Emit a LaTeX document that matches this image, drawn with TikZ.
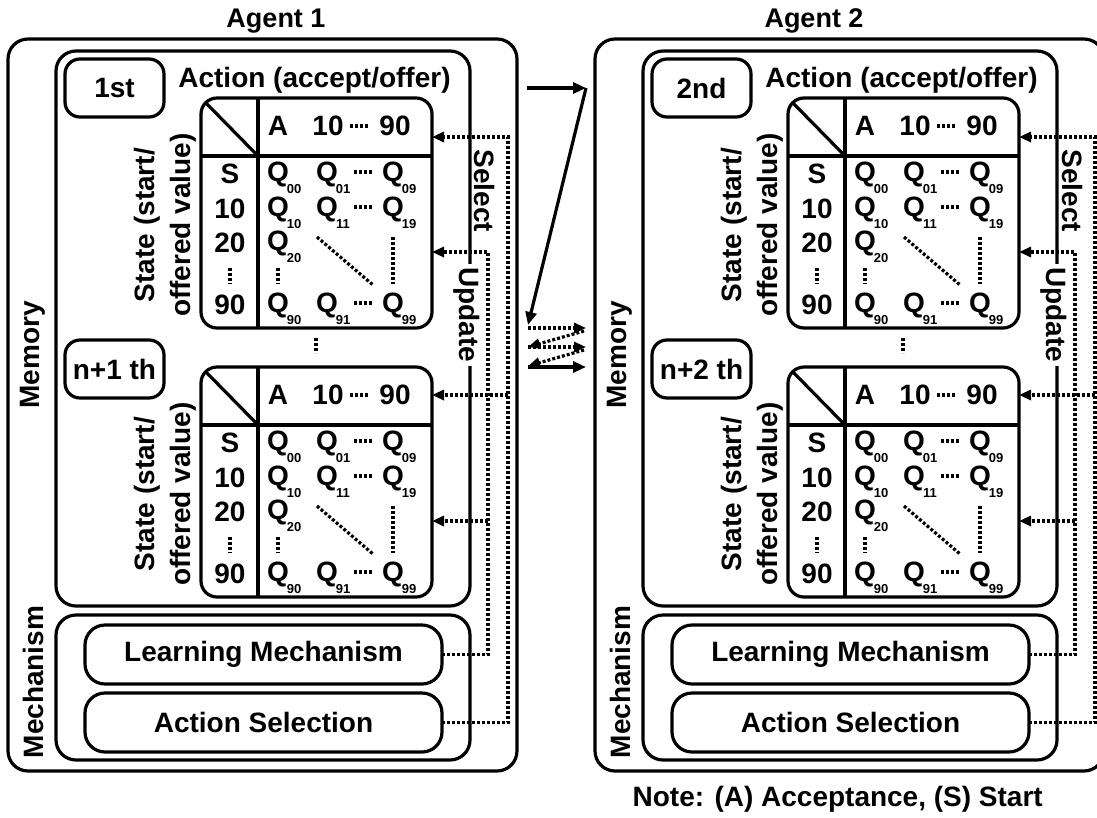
\documentclass[tikz,border=0pt]{standalone}
\usepackage{fontspec}
\setmainfont{Liberation Sans}
\usetikzlibrary{arrows.meta}

% one Q-value cell: name, x, y, subscript
\newcommand\qcell[4]{%
  \node (#1) at (#2,#3) {Q};
  \node[qsub] (#1s) at ({#2+16},{#3+15}) {#4};}

% one Q-table with its state label: name, vertical shift
\newcommand\qtable[2]{%
\begin{scope}[shift={(0,#2)}]
  \node[frame=16pt, minimum width=231pt, minimum height=230pt] (#1) at (201,98) {};
  \draw[rule] (201,156) -- (432,156);
  \draw[rule] (258,98) -- (258,328);
  \draw[rule] (205.5,102.5) -- (258,156);
  \node[rotate=90, align=center, font=\bfseries\fontsize{28}{36}\selectfont] (#1lab) at (165,225) {State (start/\\offered value)};
  \node (#1hA) at (278,126) {A};
  \node (#1h10) at (328,126) {10};
  \draw[dotln] (350,126) -- (368,126);
  \node (#1h90) at (395,126) {90};
  \node (#1rS) at (230,174) {S};
  \node (#1r10) at (230,209) {10};
  \node (#1r20) at (230,243) {20};
  \draw[dotln] (230,268) -- (230,284);
  \node (#1r90) at (230,305) {90};
  \qcell{#1q00}{278}{174}{00}
  \qcell{#1q01}{327}{174}{01}
  \qcell{#1q09}{393}{174}{09}
  \qcell{#1q10}{278}{209}{10}
  \qcell{#1q11}{327}{209}{11}
  \qcell{#1q19}{393}{209}{19}
  \qcell{#1q20}{278}{243}{20}
  \qcell{#1q90}{278}{305}{90}
  \qcell{#1q91}{327}{305}{91}
  \qcell{#1q99}{393}{305}{99}
  \draw[dotln] (354,172) -- (372,172);
  \draw[dotln] (354,207) -- (372,207);
  \draw[dotln] (354,303) -- (372,303);
  \draw[dotln] (278,268) -- (278,284);
  \draw[dotln] (393,237) -- (393,284);
  \draw[dotln] (317,237) -- (373,285);
\end{scope}}

% one agent: prefix, horizontal shift, order labels
\newcommand\agentpanel[4]{%
\begin{scope}[shift={(#2,0)}]
  \node[frame, minimum width=509pt, minimum height=732pt] (#1outer) at (8,39) {};
  \node[frame, minimum width=414pt, minimum height=555pt] (#1mem) at (56,51) {};
  \node[frame, minimum width=414pt, minimum height=145pt] (#1mech) at (56,615) {};
  \node[frame, minimum width=357pt, minimum height=59pt] (#1lm) at (85,625) {Learning Mechanism};
  \node[frame, minimum width=357pt, minimum height=59pt] (#1as) at (85,693) {Action Selection};
  \node[frame=15pt, minimum width=99pt, minimum height=58pt] (#1ordA) at (65,59) {#3};
  \node[frame=15pt, minimum width=99pt, minimum height=58pt] (#1ordB) at (65,340) {#4};
  \node[anchor=base] (#1act) at (314.5,87) {Action (accept/offer)};
  \node[rotate=90] (#1memlab) at (33,355) {Memory};
  \node[rotate=90] (#1mechlab) at (33,682) {Mechanism};
  \qtable{#1tA}{0}
  \qtable{#1tB}{269}
  \draw[dotln] (316,338) -- (316,353);
  \node[rotate=-90] (#1sel) at (485,191) {Select};
  \node[rotate=-90, fill=white, inner xsep=4pt, inner ysep=1pt] (#1upd) at (467,315) {Update};
  \coordinate (#1selA) at (508,137);
  \coordinate (#1selB) at (508,395);
  \coordinate (#1updA) at (488,252);
  \coordinate (#1updB) at (488,521);
  \draw[dotarr] (#1as.east) -| (#1selA) -- (#1tA.east |- #1selA);
  \draw[dotarr] (#1selB) -- (#1tB.east |- #1selB);
  \draw[dotarr] (#1lm.east) -| (#1updA) -- (#1tA.east |- #1updA);
  \draw[dotarr] (#1updB) -- (#1tB.east |- #1updB);
\end{scope}}

\begin{document}
\begin{tikzpicture}[x=1pt,y=-1pt,
  every node/.style={font=\bfseries\fontsize{28}{32}\selectfont, inner sep=0pt},
  frame/.style={draw, line width=3.2pt, rounded corners=#1, anchor=north west, outer sep=0pt},
  frame/.default=20pt,
  qsub/.style={font=\bfseries\fontsize{13}{13}\selectfont},
  rule/.style={line width=3.2pt},
  dotln/.style={line width=3.2pt, dash pattern=on 3pt off 2pt},
  dotarr/.style={dotln, -{Triangle[length=12pt,width=10pt]}},
  solarr/.style={line width=3.2pt, -{Triangle[length=13pt,width=11pt]}}]
  \useasboundingbox (0,0) rectangle (1097,817);

  \agentpanel{a}{0}{1st}{n+1 th}
  \agentpanel{b}{587}{2nd}{n+2 th}

  \node (title1) at (276,21) {\fontsize{27}{30}\selectfont Agent 1};
  \node (title2) at (814,21) {\fontsize{27}{30}\selectfont Agent 2};

  % message exchange between the agents
  \coordinate (m0) at (527,88);
  \coordinate (m1) at (586,88);
  \coordinate (m2) at (528,325);
  \coordinate (r1a) at (528,328);
  \coordinate (r1b) at (586,328);
  \coordinate (b1a) at (584,331);
  \coordinate (b1b) at (528,347);
  \coordinate (r2a) at (528,347);
  \coordinate (r2b) at (586,347);
  \coordinate (b2a) at (584,350);
  \coordinate (b2b) at (528,366);
  \coordinate (r3a) at (528,367);
  \coordinate (r3b) at (586,367);
  \draw[solarr] (m0) -- (m1);
  \draw[solarr] (m1) -- (m2);
  \draw[dotarr] (r1a) -- (r1b);
  \draw[dotarr] (b1a) -- (b1b);
  \draw[dotarr] (r2a) -- (r2b);
  \draw[dotarr] (b2a) -- (b2b);
  \draw[solarr] (r3a) -- (r3b);

  \node[anchor=base east] (note) at (1043,806) {Note: (A) Acceptance, (S) Start};
\end{tikzpicture}
\end{document}
